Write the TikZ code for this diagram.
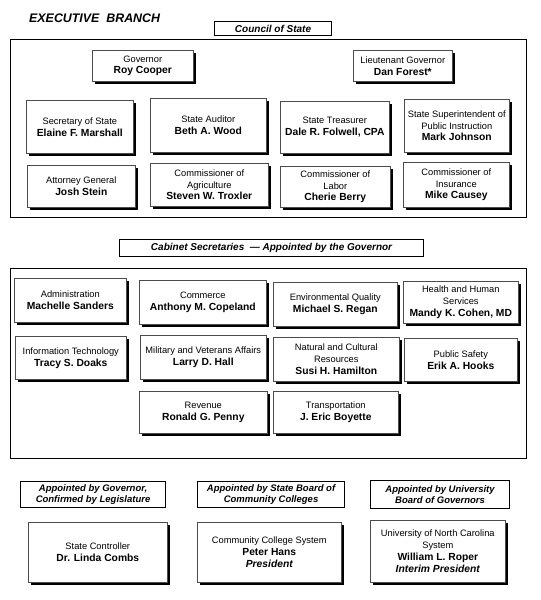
\documentclass[tikz,border=0pt]{standalone}
\usepackage{fontspec}
\setmainfont{Liberation Sans}
\usetikzlibrary{shadows}
\newcommand\rg{\fontsize{9.3}{11.8}\selectfont}
\newcommand\nm[1]{{\fontsize{10.3}{11.8}\selectfont\bfseries #1}}
\newcommand\nmi[1]{{\fontsize{10.3}{11.8}\selectfont\bfseries\itshape #1}}
\tikzset{
  person/.style={draw=black!70, line width=0.6pt, fill=white, inner sep=1pt,
    align=center, font=\rg, anchor=north west,
    drop shadow={shadow xshift=2.2pt, shadow yshift=-2.2pt, opacity=1, fill=black}},
  headbox/.style={draw=black, line width=1.1pt, inner sep=0pt, align=center,
    anchor=north west, font=\fontsize{10}{12}\selectfont\bfseries\itshape},
  subhead/.style={headbox, font=\fontsize{9.5}{11.8}\selectfont\bfseries\itshape},
  outerbox/.style={draw=black, line width=1.2pt, inner sep=0pt, anchor=north west},
}
\begin{document}
\begin{tikzpicture}[x=1pt,y=-1pt]
\useasboundingbox[fill=white] (0,0) rectangle (541,600);

\node[anchor=west, font=\fontsize{12.4}{14}\selectfont\bfseries\itshape, inner sep=0pt] (title) at (29,18) {EXECUTIVE\ \ BRANCH};

% Council of State
\node[outerbox, minimum width=516pt, minimum height=178pt] (outer1) at (10,39) {};
\node[headbox, fill=white, minimum width=117pt, minimum height=14pt] (council) at (214,21) {Council of State};

\node[person, minimum width=101pt, minimum height=31pt] (gov) at (92,50) {Governor\\\nm{Roy Cooper}};
\node[person, minimum width=99pt, minimum height=31pt] (ltgov) at (353,50) {Lieutenant Governor\\\nm{Dan Forest*}};

\node[person, minimum width=107pt, minimum height=53pt] (sos) at (26,100) {Secretary of State\\\nm{Elaine F. Marshall}};
\node[person, minimum width=116pt, minimum height=54pt] (aud) at (150,98) {State Auditor\\\nm{Beth A. Wood}};
\node[person, minimum width=109pt, minimum height=52pt] (treas) at (280,101) {State Treasurer\\\nm{Dale R. Folwell, CPA}};
\node[person, minimum width=105pt, minimum height=53pt] (supt) at (404,99) {State Superintendent of\\Public Instruction\\\nm{Mark Johnson}};

\node[person, minimum width=108pt, minimum height=42pt] (ag) at (27,165) {Attorney General\\\nm{Josh Stein}};
\node[person, minimum width=118pt, minimum height=43pt] (agr) at (150,163) {Commissioner of\\Agriculture\\\nm{Steven W. Troxler}};
\node[person, minimum width=110pt, minimum height=41pt] (lab) at (280,166) {Commissioner of\\Labor\\\nm{Cherie Berry}};
\node[person, minimum width=106pt, minimum height=45pt] (ins) at (403,162) {Commissioner of\\Insurance\\\nm{Mike Causey}};

% Cabinet
\node[headbox, minimum width=304pt, minimum height=17pt] (cabinet) at (119,239) {Cabinet Secretaries \ --- Appointed by the Governor};
\node[outerbox, minimum width=516pt, minimum height=190pt] (outer2) at (10,268) {};

\node[person, minimum width=112pt, minimum height=44pt] (adm) at (14,278) {Administration\\\nm{Machelle Sanders}};
\node[person, minimum width=127pt, minimum height=44pt] (com) at (139,280) {Commerce\\\nm{Anthony M. Copeland}};
\node[person, minimum width=124pt, minimum height=44pt] (env) at (273,282) {Environmental Quality\\\nm{Michael S. Regan}};
\node[person, minimum width=115pt, minimum height=42pt] (hhs) at (403,281) {Health and Human\\Services\\\nm{Mandy K. Cohen, MD}};

\node[person, minimum width=111pt, minimum height=43pt] (it) at (15,336) {Information Technology\\\nm{Tracy S. Doaks}};
\node[person, minimum width=126pt, minimum height=44pt] (mil) at (140,335) {Military and Veterans Affairs\\\nm{Larry D. Hall}};
\node[person, minimum width=126pt, minimum height=44pt] (nat) at (273,337) {Natural and Cultural\\Resources\\\nm{Susi H. Hamilton}};
\node[person, minimum width=113pt, minimum height=43pt] (ps) at (404,338) {Public Safety\\\nm{Erik A. Hooks}};

\node[person, minimum width=128pt, minimum height=42pt] (rev) at (139,391) {Revenue\\\nm{Ronald G. Penny}};
\node[person, minimum width=125pt, minimum height=42pt] (trn) at (273,391) {Transportation\\\nm{J. Eric Boyette}};

% Bottom
\node[subhead, minimum width=145pt, minimum height=26pt] (h1) at (20,481) {Appointed by Governor,\\Confirmed by Legislature};
\node[subhead, minimum width=147pt, minimum height=26pt] (h2) at (197,481) {Appointed by State Board of\\Community Colleges};
\node[subhead, minimum width=139pt, minimum height=28pt] (h3) at (370,480) {Appointed by University\\Board of Governors};

\node[person, minimum width=139pt, minimum height=60pt] (ctrl) at (28,522) {State Controller\\\nm{Dr. Linda Combs}};
\node[person, minimum width=144pt, minimum height=60pt] (ccs) at (197,522) {Community College System\\\nm{Peter Hans}\\\nmi{President}};
\node[person, minimum width=135pt, minimum height=62pt] (unc) at (370,520) {University of North Carolina\\System\\\nm{William L. Roper}\\\nmi{Interim President}};
\end{tikzpicture}
\end{document}
